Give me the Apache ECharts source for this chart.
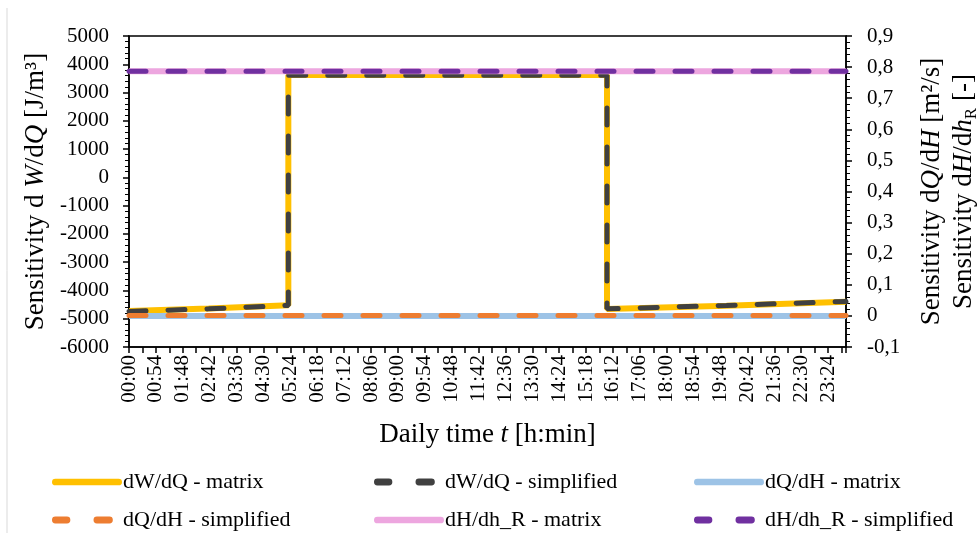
<!DOCTYPE html>
<html>
<head>
    <meta charset="utf-8">
    <script src="https://cdn.jsdelivr.net/npm/echarts@6/dist/echarts.min.js"></script>
</head>
<body style="margin:0">
    <div id="chart" style="width: 980px;height: 533px;"></div>
    <script type="text/javascript">
        // time in minutes from midnight
        var xTickLabels = ['00:00', '00:54', '01:48', '02:42', '03:36', '04:30', '05:24', '06:18', '07:12',
            '08:06', '09:00', '09:54', '10:48', '11:42', '12:36', '13:30', '14:24', '15:18', '16:12',
            '17:06', '18:00', '18:54', '19:48', '20:42', '21:36', '22:30', '23:24'];

        var dWdQ_matrix = [[0, -4730], [160, -4640], [320, -4520], [320, 3620], [960, 3620],
            [960, -4660], [1200, -4540], [1440, -4400]];
        var dWdQ_simplified = [[0, -4740], [160, -4650], [320, -4530], [320, 3610], [960, 3610],
            [960, -4650], [1200, -4530], [1440, -4390]];
        var dQdH_matrix = [[0, 0], [1440, 0]];
        var dQdH_simplified = [[0, 0.001], [1440, 0.001]];
        var dHdhR_matrix = [[0, 0.787], [1440, 0.787]];
        var dHdhR_simplified = [[0, 0.787], [1440, 0.787]];

        var seriesNames = ['dW/dQ - matrix', 'dW/dQ - simplified', 'dQ/dH - matrix',
            'dQ/dH - simplified', 'dH/dh_R - matrix', 'dH/dh_R - simplified'];

        var font = 'Liberation Serif';
        var dash = [17, 22];
        var solidIcon = 'path://M3,0h66a3,3 0 0 1 0,7h-66a3,3 0 0 1 0,-7z';
        var dashIcon = 'path://M3,0h12a3,3 0 0 1 0,7h-12a3,3 0 0 1 0,-7z M46,0h13a3,3 0 0 1 0,7h-13a3,3 0 0 1 0,-7z M71.9,3h0.1v0.1h-0.1z';

        function solid(name, data, axis, color) {
            return {
                name: name, type: 'line', data: data, yAxisIndex: axis,
                symbol: 'none', animation: false,
                lineStyle: { color: color, width: 6 },
                itemStyle: { color: color }
            };
        }
        function dashed(name, data, axis, color) {
            return {
                name: name, type: 'line', data: data, yAxisIndex: axis,
                symbol: 'none', animation: false,
                lineStyle: { color: color, width: 5, type: dash, cap: 'round' },
                itemStyle: { color: color }
            };
        }

        var colX = [47, 369, 689];
        var rowY = [466, 504];
        var legends = seriesNames.map(function (n, i) {
            return {
                data: [{ name: n, icon: (i % 2 === 0 ? solidIcon : dashIcon) }],
                left: colX[i % 3], top: rowY[Math.floor(i / 3)],
                itemWidth: 70, itemHeight: 7, itemGap: 0,
                itemStyle: { borderWidth: 0 },
                textStyle: { fontFamily: font, fontSize: 22, color: '#000', padding: [0, 0, 0, -4] }
            };
        });

        function axisLineStyle() { return { show: true, onZero: false, lineStyle: { color: '#000', width: 1.5 } }; }
        function majorTick() { return { show: true, length: 6, lineStyle: { color: '#000', width: 1.5 } }; }
        function minorTick(n) { return { show: true, splitNumber: n, length: 4, lineStyle: { color: '#000', width: 1 } }; }

        var myChart = echarts.init(document.getElementById('chart'));
        var option = {
            backgroundColor: '#fff',
            animation: false,
            textStyle: { fontFamily: font },
            legend: legends,
            graphic: [{
                type: 'line', shape: { x1: 7, y1: 8, x2: 7, y2: 533 },
                style: { stroke: '#d9d9d9', lineWidth: 1 }
            }],
            grid: {
                left: 129, right: 134, top: 36, bottom: 186,
                outerBoundsMode: 'none', containLabel: false,
                show: true, borderColor: '#000', borderWidth: 1.5
            },
            xAxis: {
                type: 'value', min: 0, max: 1440, interval: 54,
                name: 'Daily time {i|t} [h:min]',
                nameLocation: 'middle', nameGap: 74,
                nameTextStyle: {
                    fontFamily: font, fontSize: 27, color: '#000',
                    rich: { i: { fontFamily: font, fontSize: 27, fontStyle: 'italic', color: '#000' } }
                },
                axisLine: axisLineStyle(),
                axisTick: { show: true, length: 6, lineStyle: { color: '#000', width: 1.5 } },
                minorTick: { show: true, splitNumber: 2, length: 6, lineStyle: { color: '#000', width: 1.5 } },
                splitLine: { show: false },
                axisLabel: {
                    rotate: 90, fontSize: 21, color: '#000', fontFamily: font, margin: 8,
                    showMaxLabel: false,
                    formatter: function (v) {
                        return v % 54 === 0 ? (xTickLabels[v / 54] || '') : '';
                    }
                }
            },
            yAxis: [{
                type: 'value', position: 'left', min: -6000, max: 5000, interval: 1000,
                name: 'Sensitivity d {i|W}/d{i|Q} [J/m³]',
                nameLocation: 'middle', nameRotate: 90, nameGap: 72,
                nameTextStyle: {
                    fontFamily: font, fontSize: 27, color: '#000',
                    rich: { i: { fontFamily: font, fontSize: 27, fontStyle: 'italic', color: '#000' } }
                },
                axisLine: axisLineStyle(),
                axisTick: majorTick(),
                minorTick: minorTick(5),
                splitLine: { show: false },
                minorSplitLine: { show: false },
                axisLabel: {
                    fontSize: 21, color: '#000', fontFamily: font, margin: 20,
                    formatter: function (v) { return String(v); }
                }
            }, {
                type: 'value', position: 'right', min: -0.1, max: 0.9, interval: 0.1,
                name: 'Sensitivity d{i|Q}/d{i|H} [m²/s]\nSensitivity d{i|H}/d{i|h}{sub|R} [-]',
                nameLocation: 'middle', nameRotate: 90, nameGap: 70,
                nameTextStyle: {
                    fontFamily: font, fontSize: 27, color: '#000', lineHeight: 32,
                    rich: {
                        i: { fontFamily: font, fontSize: 27, fontStyle: 'italic', color: '#000', lineHeight: 32 },
                        sub: { fontFamily: font, fontSize: 17, color: '#000', lineHeight: 17, verticalAlign: 'bottom' }
                    }
                },
                axisLine: axisLineStyle(),
                axisTick: majorTick(),
                minorTick: minorTick(5),
                splitLine: { show: false },
                minorSplitLine: { show: false },
                axisLabel: {
                    fontSize: 21, color: '#000', fontFamily: font, margin: 21,
                    formatter: function (v) { return String(+v.toFixed(1)).replace('.', ','); }
                }
            }],
            series: [
                solid(seriesNames[0], dWdQ_matrix, 0, '#FFC000'),
                dashed(seriesNames[1], dWdQ_simplified, 0, '#404040'),
                solid(seriesNames[2], dQdH_matrix, 1, '#9DC3E6'),
                dashed(seriesNames[3], dQdH_simplified, 1, '#ED7D31'),
                solid(seriesNames[4], dHdhR_matrix, 1, '#EDA6DF'),
                dashed(seriesNames[5], dHdhR_simplified, 1, '#7030A0')
            ]
        };
        myChart.setOption(option);
    </script>
</body>
</html>
